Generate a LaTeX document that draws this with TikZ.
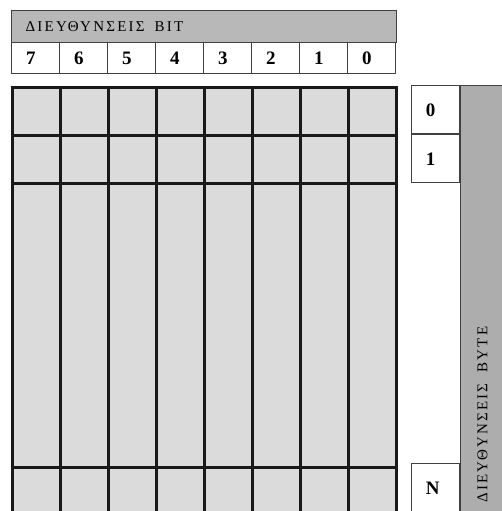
\documentclass[tikz,border=0pt]{standalone}
\usepackage{fontspec}
\setmainfont{Liberation Serif}
\newfontfamily\spacedfont[LetterSpace=15]{Liberation Serif}
\usetikzlibrary{positioning}
\definecolor{hdrgray}{gray}{0.72}
\definecolor{cellgray}{gray}{0.86}
\definecolor{bandgray}{gray}{0.68}
\definecolor{linegray}{gray}{0.25}

\begin{document}
\begin{tikzpicture}[x=1pt, y=-1pt,
    hdr/.style={draw=linegray, line width=1.1pt, fill=hdrgray, inner sep=0pt,
                font=\spacedfont\fontsize{15}{15}\selectfont},
    bitbox/.style={draw=linegray, line width=1.1pt, fill=white, minimum width=48pt,
                   minimum height=31pt, text width=19pt, inner xsep=14.5pt, align=left,
                   text height=13pt, text depth=0pt, font=\fontsize{19}{19}\bfseries},
    bytebox/.style={bitbox, minimum height=48pt},
    gridline/.style={line width=3pt, black!90}
  ]
    \useasboundingbox (0,0) rectangle (502,511);
    % bit address header
    \node[hdr, minimum width=385pt, minimum height=32pt, anchor=north west,
          text width=357pt, align=left] (bithdr) at (11,10) {ΔΙΕΥΘΥΝΣΕΙΣ\hspace{5pt} BIT};
    \foreach \b [count=\i from 0] in {7,6,5,4,3,2,1,0}
      \node[bitbox, anchor=north west] (bit\b) at (11+48*\i,42) {\b};
    % memory grid
    \fill[cellgray] (12,87) rectangle (396,511);
    \foreach \x in {12,60,...,396}
      \draw[gridline] (\x,87) -- (\x,511);
    \foreach \y in {87,135,183,467}
      \draw[gridline] (10.5,\y) -- (397.5,\y);
    % byte address column
    \node[hdr, fill=bandgray, minimum width=42pt, minimum height=426pt,
          anchor=north west] (bytehdr) at (460,85) {};
    \node[rotate=90, anchor=west, font=\spacedfont\fontsize{15}{15}\selectfont]
      (bytelbl) at ([xshift=1pt, yshift=6pt]bytehdr.south) {ΔΙΕΥΘΥΝΣΕΙΣ\hspace{5pt} BYTE};
    \node[bytebox, anchor=north east] (byte0) at (bytehdr.north west) {0};
    \node[bytebox, below=0pt of byte0] (byte1) {1};
    \node[bytebox, anchor=north east] (byteN) at (460,463) {N};
  \end{tikzpicture}
\end{document}
